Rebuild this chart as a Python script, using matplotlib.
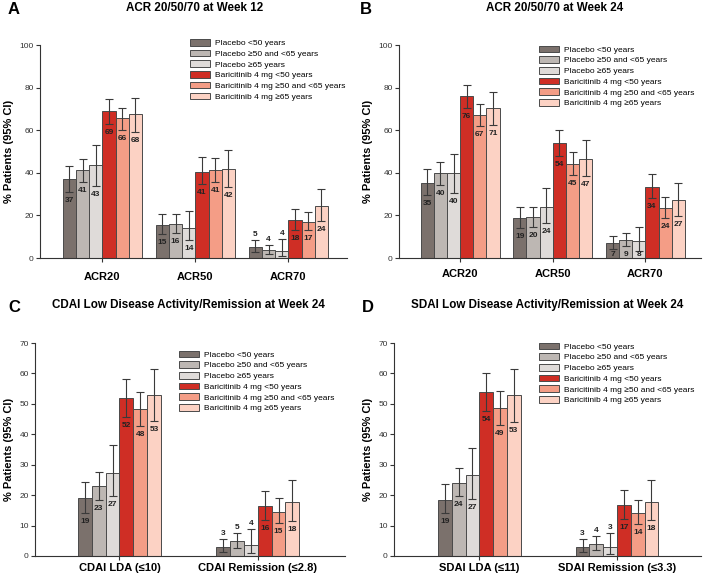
import matplotlib
matplotlib.use("Agg")
import matplotlib.pyplot as plt
from matplotlib.patches import Patch
import numpy as np

plt.rcParams['font.family'] = ['Liberation Sans', 'DejaVu Sans']

series_names = ["Placebo <50 years", "Placebo \u226550 and <65 years", "Placebo \u226565 years",
                "Baricitinib 4 mg <50 years", "Baricitinib 4 mg \u226550 and <65 years",
                "Baricitinib 4 mg \u226565 years"]
series_colors = ["#7b716c", "#bdb7b3", "#dfdbd9", "#cf2e25", "#f49d86", "#fcd2c4"]

# Panel A
A_title = "ACR 20/50/70 at Week 12"
A_groups = ["ACR20", "ACR50", "ACR70"]
A_values = [[37.0, 41.1, 43.6, 68.8, 65.6, 67.5],
            [15.3, 15.9, 14.2, 40.6, 41.3, 41.9],
            [5.2, 3.8, 3.4, 18.0, 16.9, 24.5]]
A_lower = [[30.9, 35.6, 34.0, 62.8, 60.2, 59.0],
           [11.3, 11.9, 8.3, 34.7, 35.9, 33.4],
           [2.7, 2.0, 0.8, 13.1, 13.0, 17.3]]
A_upper = [[43.3, 46.3, 53.0, 74.5, 70.6, 75.3],
           [20.5, 20.5, 22.0, 47.2, 47.0, 50.6],
           [8.4, 6.3, 9.0, 23.0, 21.7, 32.3]]
A_labels = [[37, 41, 43, 69, 66, 68], [15, 16, 14, 41, 41, 42], [5, 4, 4, 18, 17, 24]]
A_above = [[0] * 6, [0] * 6, [1, 1, 1, 0, 0, 0]]

# Panel B
B_title = "ACR 20/50/70 at Week 24"
B_groups = ["ACR20", "ACR50", "ACR70"]
B_values = [[35.2, 39.8, 39.7, 76.0, 67.0, 70.5],
            [18.6, 19.2, 23.8, 53.8, 44.2, 46.7],
            [6.9, 8.3, 7.8, 33.4, 23.4, 27.0]]
B_lower = [[29.4, 34.5, 30.3, 70.2, 61.9, 62.5],
           [13.9, 14.7, 16.3, 47.7, 38.8, 38.3],
           [4.1, 5.8, 3.4, 28.1, 18.9, 19.7]]
B_upper = [[41.6, 45.0, 49.0, 81.0, 72.3, 78.0],
           [24.0, 23.8, 32.7, 60.0, 49.8, 55.6],
           [10.5, 11.9, 14.4, 39.4, 28.8, 35.3]]
B_labels = [[35, 40, 40, 76, 67, 71], [19, 20, 24, 54, 45, 47], [7, 9, 8, 34, 24, 27]]
B_above = [[0] * 6, [0] * 6, [0] * 6]

# Panel C
C_title = "CDAI Low Disease Activity/Remission at Week 24"
C_groups = ["CDAI LDA (\u226410)", "CDAI Remission (\u22642.8)"]
C_values = [[18.9, 23.0, 27.4, 52.0, 48.3, 52.9],
            [2.8, 4.9, 3.5, 16.3, 14.6, 17.7]]
C_lower = [[14.2, 18.5, 19.6, 45.6, 42.6, 44.3],
           [1.2, 2.7, 0.9, 11.8, 10.9, 11.6]]
C_upper = [[24.3, 27.7, 36.5, 58.3, 53.8, 61.5],
           [5.7, 7.6, 8.8, 21.4, 19.2, 25.0]]
C_labels = [[19, 23, 27, 52, 48, 53], [3, 5, 4, 16, 15, 18]]
C_above = [[0] * 6, [1, 1, 1, 0, 0, 0]]

# Panel D
D_title = "SDAI Low Disease Activity/Remission at Week 24"
D_groups = ["SDAI LDA (\u226411)", "SDAI Remission (\u22643.3)"]
D_values = [[18.5, 24.1, 26.5, 54.0, 48.6, 52.9],
            [2.8, 4.1, 2.8, 16.6, 14.0, 17.6]]
D_lower = [[14.0, 19.7, 18.6, 47.5, 42.9, 44.2],
           [1.2, 2.1, 0.5, 12.3, 10.5, 11.7]]
D_upper = [[23.8, 28.9, 35.4, 60.1, 54.2, 61.4],
           [5.6, 6.7, 7.6, 21.7, 18.4, 25.1]]
D_labels = [[19, 24, 27, 54, 49, 53], [3, 4, 3, 17, 14, 18]]
D_above = [[0] * 6, [1, 1, 1, 0, 0, 0]]

fig = plt.figure(figsize=(7.08, 5.76), dpi=100)
W, H = 708.0, 576.0

panels = [
    dict(letter="A", title=A_title, groups=A_groups, vals=A_values, lo=A_lower, hi=A_upper,
         labels=A_labels, above=A_above, ymax=100, ystep=20,
         box=(40, 347, 45, 258), xlim=(-0.67, 2.63), bw=0.142, xpad=7,
         leg=(190, 39), title_x=195, title_y=8, letter_xy=(8, 9.5)),
    dict(letter="B", title=B_title, groups=B_groups, vals=B_values, lo=B_lower, hi=B_upper,
         labels=B_labels, above=B_above, ymax=100, ystep=20,
         box=(399, 701, 45, 258), xlim=(-0.66, 2.6), bw=0.142, xpad=5,
         leg=(539, 45.5), title_x=555, title_y=8, letter_xy=(360, 9.5)),
    dict(letter="C", title=C_title, groups=C_groups, vals=C_values, lo=C_lower, hi=C_upper,
         labels=C_labels, above=C_above, ymax=70, ystep=10,
         box=(35, 345, 343, 556), xlim=(-0.61, 1.63), bw=0.1, xpad=2,
         leg=(179, 350.5), title_x=188, title_y=305, letter_xy=(8, 307)),
    dict(letter="D", title=D_title, groups=D_groups, vals=D_values, lo=D_lower, hi=D_upper,
         labels=D_labels, above=D_above, ymax=70, ystep=10,
         box=(394, 701, 343, 556), xlim=(-0.62, 1.61), bw=0.1, xpad=2,
         leg=(539, 342.5), title_x=547, title_y=305, letter_xy=(362, 307)),
]

for p in panels:
    x0, x1, ytop, ybot = p["box"]
    ax = fig.add_axes([x0 / W, 1 - ybot / H, (x1 - x0) / W, (ybot - ytop) / H])
    ng = len(p["groups"])
    xs = np.arange(ng)
    bw = p["bw"]
    for i in range(6):
        h = [p["vals"][g][i] for g in range(ng)]
        lo = [p["lo"][g][i] for g in range(ng)]
        hi = [p["hi"][g][i] for g in range(ng)]
        xpos = xs + (i - 2.5) * bw
        ax.bar(xpos, h, width=bw, color=series_colors[i], edgecolor="#4a4a4a", linewidth=0.7, zorder=2)
        yerr = [np.array(h) - np.array(lo), np.array(hi) - np.array(h)]
        ax.errorbar(xpos, h, yerr=yerr, fmt="none", ecolor="#3a3a3a", elinewidth=0.8,
                    capsize=3.0, capthick=0.8, zorder=3)
        for g in range(ng):
            ym = p["ymax"]
            if p["above"][g][i]:
                ty = hi[g] + 0.025 * ym
            else:
                ty = max(lo[g] - 0.04 * ym, 0.018 * ym)
            ax.text(xpos[g], ty, str(p["labels"][g][i]), ha="center", va="center",
                    fontsize=6, fontweight="bold", color="#222222", zorder=4)
    ax.set_xlim(*p["xlim"])
    ax.set_ylim(0, p["ymax"])
    ax.set_yticks(np.arange(0, p["ymax"] + 1, p["ystep"]))
    ax.set_xticks(xs)
    ax.set_xticklabels(p["groups"], fontsize=8, fontweight="bold")
    for s in ["top", "right"]:
        ax.spines[s].set_visible(False)
    for s in ["left", "bottom"]:
        ax.spines[s].set_color("#333333")
        ax.spines[s].set_linewidth(0.8)
    ax.tick_params(axis="y", labelsize=6, length=3, width=0.8, pad=1.5, colors="#333333")
    ax.tick_params(axis="x", length=3, width=0.8, pad=p["xpad"], colors="#333333")
    for t in ax.get_xticklabels():
        t.set_color("black")
    ax.set_ylabel("% Patients (95% CI)", fontsize=8, fontweight="bold", labelpad=4)
    handles = [Patch(facecolor=series_colors[i], edgecolor="#4a4a4a", linewidth=0.7) for i in range(6)]
    lx, ly = p["leg"]
    ax.legend(handles, series_names, loc="upper left", bbox_to_anchor=(lx / W, 1 - ly / H),
              bbox_transform=fig.transFigure, frameon=False, fontsize=6, borderpad=0,
              borderaxespad=0, handlelength=2.4, handleheight=0.85, handletextpad=0.55,
              labelspacing=0.30)
    fig.text(p["title_x"] / W, 1 - p["title_y"] / H, p["title"], ha="center", va="center",
             fontsize=8.4, fontweight="bold")
    lxl, lyl = p["letter_xy"]
    fig.text(lxl / W, 1 - lyl / H, p["letter"], ha="left", va="center", fontsize=12, fontweight="bold")

fig.savefig("out.png", dpi=100)
